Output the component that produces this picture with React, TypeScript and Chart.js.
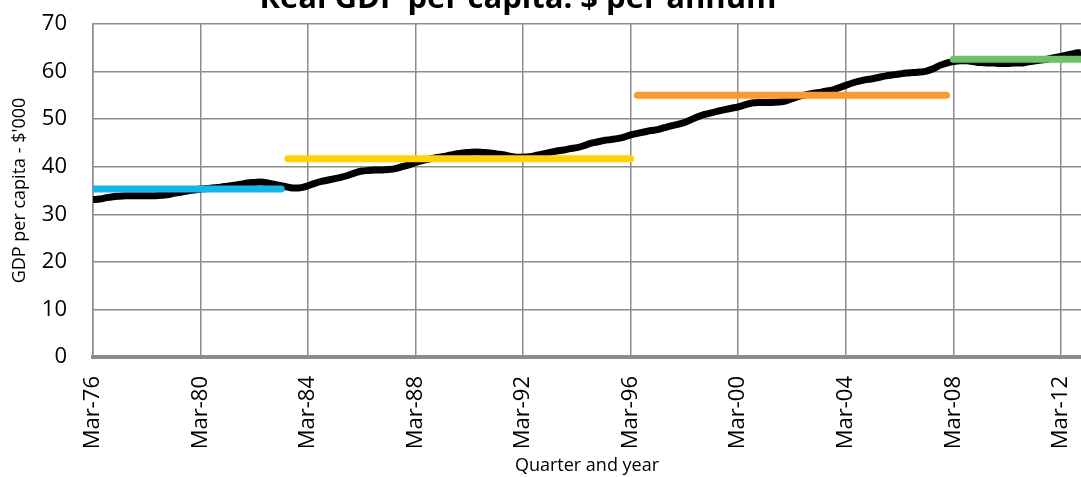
import React, { useEffect, useRef } from "react";
import { Chart, registerables } from "chart.js";

Chart.register(...registerables);

const chartTitle = "Real GDP per capita: $ per annum";
const xAxisTitle = "Quarter and year";
const yAxisTitle = "GDP per capita - $'000";

// x tick labels, one every 16 quarters (4 years), starting at Mar-76
const tickLabels = ["Mar-76", "Mar-80", "Mar-84", "Mar-88", "Mar-92", "Mar-96", "Mar-00", "Mar-04", "Mar-08", "Mar-12"];
const quartersPerTick = 16;

// Quarterly real GDP per capita ($'000), Mar-76 .. Dec-12
const gdpPerCapita = [
  33.1, 33.2, 33.5, 33.7, // 1976
  33.8, 33.9, 33.9, 33.9, // 1977
  33.9, 33.9, 34.0, 34.1, // 1978
  34.4, 34.6, 34.9, 35.1, // 1979
  35.3, 35.4, 35.6, 35.7, // 1980
  35.9, 36.1, 36.3, 36.6, // 1981
  36.7, 36.8, 36.6, 36.3, // 1982
  36.0, 35.7, 35.5, 35.6, // 1983
  36.0, 36.5, 36.9, 37.2, // 1984
  37.5, 37.8, 38.2, 38.7, // 1985
  39.1, 39.2, 39.3, 39.3, // 1986
  39.4, 39.6, 40.0, 40.4, // 1987
  40.9, 41.3, 41.6, 41.9, // 1988
  42.1, 42.4, 42.7, 42.9, // 1989
  43.0, 43.1, 43.0, 42.9, // 1990
  42.7, 42.5, 42.2, 42.0, // 1991
  42.0, 42.1, 42.4, 42.7, // 1992
  43.0, 43.3, 43.5, 43.8, // 1993
  44.0, 44.4, 44.9, 45.2, // 1994
  45.5, 45.7, 45.9, 46.2, // 1995
  46.7, 47.0, 47.3, 47.6, // 1996
  47.8, 48.2, 48.6, 48.9, // 1997
  49.3, 49.9, 50.5, 51.0, // 1998
  51.3, 51.7, 52.0, 52.3, // 1999
  52.6, 53.0, 53.4, 53.5, // 2000
  53.5, 53.5, 53.6, 53.8, // 2001
  54.3, 54.8, 55.1, 55.4, // 2002
  55.6, 55.9, 56.1, 56.6, // 2003
  57.1, 57.6, 58.0, 58.3, // 2004
  58.5, 58.8, 59.1, 59.3, // 2005
  59.5, 59.7, 59.8, 59.9, // 2006
  60.1, 60.6, 61.3, 61.8, // 2007
  62.1, 62.3, 62.3, 62.1, // 2008
  61.9, 61.8, 61.8, 61.7, // 2009
  61.7, 61.8, 61.8, 62.0, // 2010
  62.2, 62.4, 62.6, 62.9, // 2011
  63.2, 63.5, 63.8, 64.0, // 2012
];

// Period averages (quarter index start/end)
const periodStart = [0, 29, 81, 128];
const periodEnd = [28, 80, 127, 147];
const periodAverage = [35.3, 41.7, 55.0, 62.6];
const periodColors = ["#19b5ea", "#ffd200", "#f89c31", "#6fc166"];

const FONT = '"Open Sans", "Liberation Sans", sans-serif';
const GRID = "#8c8c8c";

const titlePlugin = {
  id: "cutTitle",
  afterDraw(chart: any) {
    const ctx = chart.ctx;
    ctx.save();
    ctx.font = `bold 31px ${FONT}`;
    ctx.fillStyle = "#000";
    ctx.textAlign = "center";
    ctx.textBaseline = "alphabetic";
    ctx.fillText(chartTitle, 518, 8);
    ctx.restore();
  },
};

export default function App() {
  const ref = useRef<HTMLCanvasElement | null>(null);

  useEffect(() => {
    if (!ref.current) return;
    const datasets: any[] = [
      {
        label: "GDP per capita",
        data: gdpPerCapita.map((y, i) => ({ x: i, y })),
        borderColor: "#000",
        borderWidth: 7,
        pointRadius: 0,
        tension: 0.4,
        cubicInterpolationMode: "monotone",
        clip: 0,
        order: 1,
      },
      ...periodAverage.map((avg, k) => ({
        label: `Average ${k + 1}`,
        data: [
          { x: periodStart[k], y: avg },
          { x: periodEnd[k], y: avg },
        ],
        borderColor: periodColors[k],
        borderWidth: 7,
        borderCapStyle: "round",
        pointRadius: 0,
        clip: 0,
        order: 0,
      })),
    ];

    const chart = new Chart(ref.current, {
      type: "line",
      data: { datasets },
      plugins: [titlePlugin],
      options: {
        animation: false,
        responsive: false,
        maintainAspectRatio: false,
        layout: { padding: { top: 24, left: 0, right: 0, bottom: 0 } },
        plugins: {
          legend: { display: false },
          tooltip: { enabled: false },
          title: { display: false },
        },
        scales: {
          x: {
            type: "linear",
            min: 0,
            max: gdpPerCapita.length - 1,
            afterFit(s: any) {
              s.height = 120;
              s.paddingLeft = 0;
              s.paddingRight = 0;
              s.paddingTop = 0;
              s.paddingBottom = 0;
            },
            grid: { color: GRID, lineWidth: 1.5, drawTicks: false },
            border: { color: GRID, width: 4 },
            ticks: {
              stepSize: quartersPerTick,
              includeBounds: false,
              autoSkip: false,
              minRotation: 90,
              maxRotation: 90,
              padding: 19,
              color: "#000",
              font: { family: FONT, size: 22 },
              callback: (v: any) => {
                const i = Number(v) / quartersPerTick;
                return Number.isInteger(i) ? tickLabels[i] : "";
              },
            },
            title: {
              display: true,
              text: xAxisTitle,
              color: "#000",
              font: { family: FONT, size: 18 },
              padding: { top: 0, bottom: 0 },
            },
          },
          y: {
            min: 0,
            max: 70,
            afterFit(s: any) {
              s.width = 93;
              s.paddingTop = 0;
              s.paddingBottom = 0;
            },
            grid: { color: GRID, lineWidth: 1.5, drawTicks: false },
            border: { color: GRID, width: 1.5 },
            ticks: {
              stepSize: 10,
              padding: 26,
              color: "#000",
              font: { family: FONT, size: 22 },
            },
            title: {
              display: true,
              text: yAxisTitle,
              color: "#000",
              font: { family: FONT, size: 18 },
              padding: { top: 9, bottom: 0 },
            },
          },
        },
      } as any,
    });
    return () => chart.destroy();
  }, []);

  return (
    <div style={{ position: "fixed", left: 0, top: 0, width: 1081, height: 477, background: "#fff" }}>
      <canvas ref={ref} width={1081} height={477} style={{ width: 1081, height: 477, display: "block" }} />
    </div>
  );
}
